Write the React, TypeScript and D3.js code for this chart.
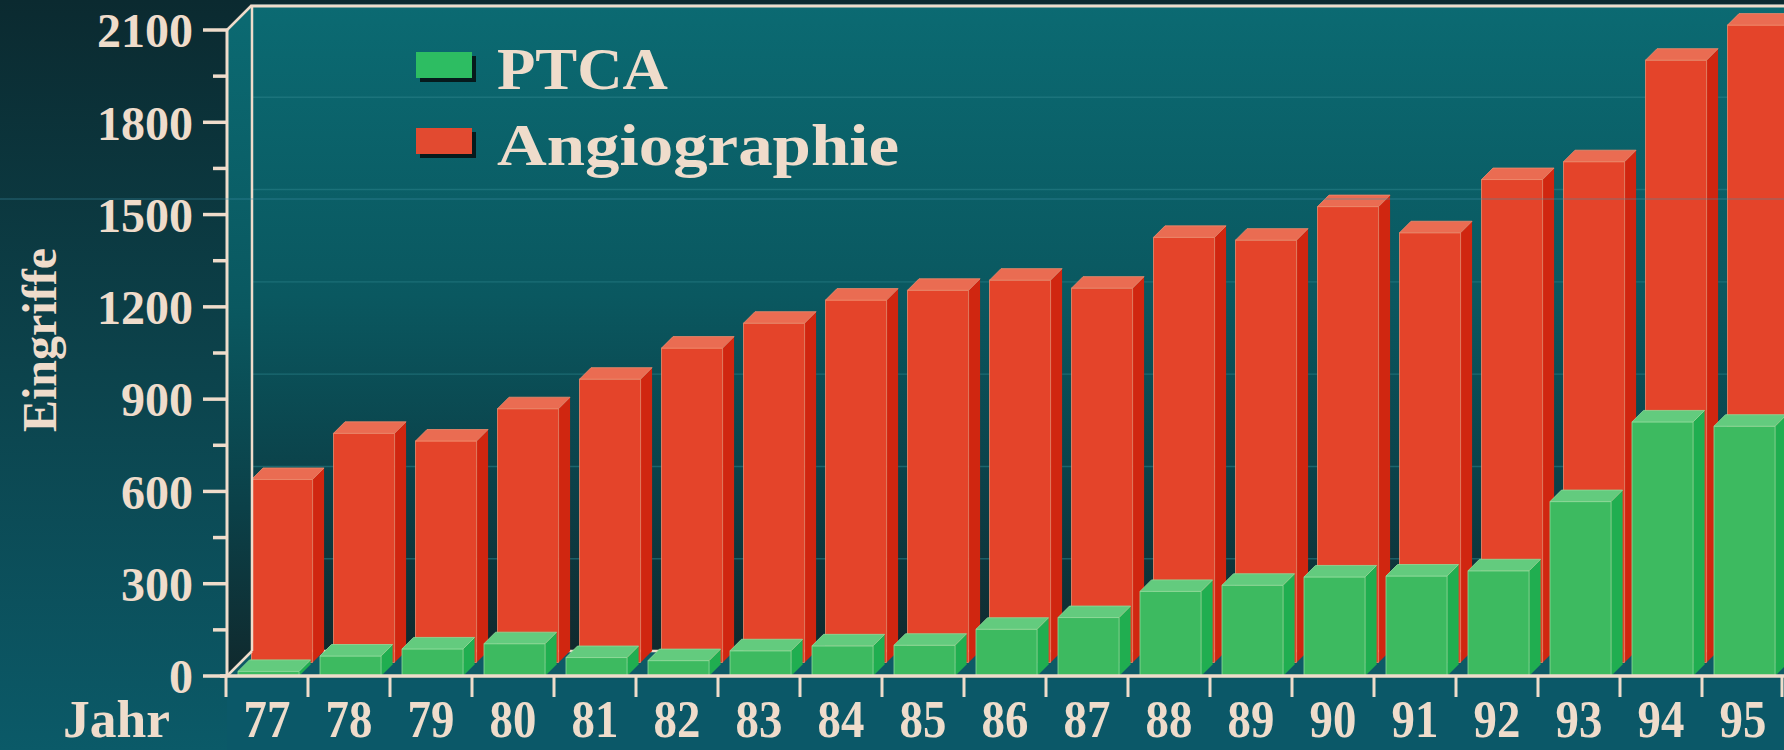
import React, { useEffect } from "react";
import * as d3 from "d3";

// Eingriffe pro Jahr
const years = ["77", "78", "79", "80", "81", "82", "83", "84", "85", "86", "87", "88", "89", "90", "91", "92", "93", "94", "95"];
const ptca = [15, 65, 88, 105, 60, 50, 82, 98, 100, 152, 190, 275, 295, 322, 325, 342, 567, 826, 812];
const angio = [595, 745, 720, 825, 921, 1022, 1103, 1178, 1210, 1243, 1217, 1382, 1373, 1482, 1397, 1570, 1628, 1958, 2072];
const yTicks = [0, 300, 600, 900, 1200, 1500, 1800, 2100];
const yMinor = [150, 450, 750, 1050, 1350, 1650, 1950];

const W = 1784,
  H = 750;
const CREAM = "#efdccb";
const DEPTH = 25; // 3D-Tiefe in px (nach rechts oben)

const x = d3.scaleBand<string>().domain(years).range([226, 1784]);
const y = d3.scaleLinear().domain([0, 2100]).range([676, 30]);

const poly = (pts: number[][]) => "M" + pts.map((p) => p.join(",")).join("L") + "Z";

// Quader zwischen Tiefe d0 und d1 (0 = vorne, 1 = Rückwand)
function box(x0: number, x1: number, v: number, d0: number, d1: number) {
  const a = DEPTH * d0,
    b = DEPTH * d1,
    yb = y(0),
    yt = y(v);
  return {
    front: poly([
      [x0 + a, yb - a],
      [x1 + a, yb - a],
      [x1 + a, yt - a],
      [x0 + a, yt - a],
    ]),
    top: poly([
      [x0 + a, yt - a],
      [x1 + a, yt - a],
      [x1 + b, yt - b],
      [x0 + b, yt - b],
    ]),
    side: poly([
      [x1 + a, yb - a],
      [x1 + a, yt - a],
      [x1 + b, yt - b],
      [x1 + b, yb - b],
    ]),
  };
}

const RED = { front: "#e4442a", top: "#ea6c52", side: "#d02610", edge: "#f08a6c" };
const GREEN = { front: "#3dba60", top: "#63cb7e", side: "#20ae50", edge: "#8fdc9c" };

export default function App() {
  useEffect(() => {
    document.body.style.margin = "0";
    document.body.style.overflow = "hidden";
  }, []);

  const font = "'Liberation Serif', 'Times New Roman', serif";
  const bw = x.bandwidth() * 0.745;
  const off = 12;
  const wallX = 227 + DEPTH,
    wallFloor = y(0) - DEPTH,
    wallTop = y(2100) - DEPTH;

  return (
    <svg width={W} height={H} style={{ position: "absolute", left: 0, top: 0 }}>
      <defs>
        <linearGradient id="bg" x1="0" y1="0" x2="0" y2="1">
          <stop offset="0" stopColor="#0b2a30" />
          <stop offset="0.5" stopColor="#0c434c" />
          <stop offset="1" stopColor="#0b5a68" />
        </linearGradient>
        <linearGradient id="wall" x1="0" y1="0" x2="0" y2="1">
          <stop offset="0" stopColor="#0b6a72" />
          <stop offset="0.45" stopColor="#0a5860" />
          <stop offset="0.75" stopColor="#0b4048" />
          <stop offset="1" stopColor="#10292d" />
        </linearGradient>
      </defs>

      <rect x={0} y={0} width={W} height={H} fill="url(#bg)" />
      <rect x={227} y={680} width={W - 227} height={H - 680} fill="#0b5868" />

      {/* Rückwand und linke Seitenwand */}
      <rect x={wallX} y={wallTop} width={W - wallX} height={wallFloor - wallTop} fill="url(#wall)" />
      <path
        d={poly([
          [227, y(2100)],
          [wallX, wallTop],
          [wallX, wallFloor],
          [227, y(0)],
        ])}
        fill="url(#wall)"
      />
      {yTicks.slice(1).map((t) => (
        <line key={t} x1={wallX} x2={W} y1={y(t) - DEPTH} y2={y(t) - DEPTH} stroke="#2a8189" strokeWidth={1.4} opacity={0.55} />
      ))}

      {/* Boden */}
      <path
        d={poly([
          [227, y(0)],
          [wallX, wallFloor],
          [W, wallFloor],
          [W, y(0)],
        ])}
        fill="#0e5a66"
      />
      <line x1={wallX} x2={W} y1={wallFloor} y2={wallFloor} stroke={CREAM} strokeWidth={2.5} />

      {/* Angiographie (hintere Reihe) */}
      {years.map((yr, i) => {
        const x0 = (x(yr) as number) + off;
        const bx = box(x0, x0 + bw, angio[i], 0.54, 1.0);
        return (
          <g key={"a" + yr}>
            <path d={bx.side} fill={RED.side} />
            <path d={bx.front} fill={RED.front} stroke={RED.edge} strokeWidth={0.8} />
            <path d={bx.top} fill={RED.top} stroke={RED.edge} strokeWidth={0.8} />
          </g>
        );
      })}

      {/* PTCA (vordere Reihe) */}
      {years.map((yr, i) => {
        const x0 = (x(yr) as number) + off;
        const bx = box(x0, x0 + bw, ptca[i], 0, 0.46);
        return (
          <g key={"p" + yr}>
            <path d={bx.side} fill={GREEN.side} />
            <path d={bx.front} fill={GREEN.front} stroke={GREEN.edge} strokeWidth={0.8} />
            <path d={bx.top} fill={GREEN.top} stroke={GREEN.edge} strokeWidth={0.8} />
          </g>
        );
      })}

      {/* Rahmen und Achsen */}
      <line x1={wallX} x2={W} y1={wallTop + 1} y2={wallTop + 1} stroke={CREAM} strokeWidth={3} />
      <line x1={wallX} x2={wallX} y1={wallTop} y2={wallFloor} stroke={CREAM} strokeWidth={2.5} />
      <line x1={227} x2={wallX} y1={y(2100)} y2={wallTop} stroke={CREAM} strokeWidth={2.5} />
      <line x1={227} x2={wallX} y1={y(0)} y2={wallFloor} stroke={CREAM} strokeWidth={2.5} />
      <line x1={227} x2={227} y1={y(2100)} y2={y(0)} stroke={CREAM} strokeWidth={3} />
      <line x1={220} x2={W} y1={y(0)} y2={y(0)} stroke={CREAM} strokeWidth={3.5} />

      {yTicks.map((t) => (
        <line key={"t" + t} x1={203} x2={227} y1={y(t)} y2={y(t)} stroke={CREAM} strokeWidth={3.5} />
      ))}
      {yMinor.map((t) => (
        <line key={"m" + t} x1={213} x2={227} y1={y(t)} y2={y(t)} stroke={CREAM} strokeWidth={3.5} />
      ))}
      {yTicks.map((t) => (
        <text key={"l" + t} x={193} y={y(t)} dy="0.36em" textAnchor="end" fontFamily={font} fontWeight="bold" fontSize={48} fill={CREAM}>
          {t}
        </text>
      ))}

      {years.map((yr) => (
        <line key={"xt" + yr} x1={x(yr) as number} x2={x(yr) as number} y1={y(0)} y2={697} stroke={CREAM} strokeWidth={3} />
      ))}
      <line x1={1782} x2={1782} y1={y(0)} y2={697} stroke={CREAM} strokeWidth={3} />
      {years.map((yr) => {
        const cx = (x(yr) as number) + x.bandwidth() / 2;
        return (
          <text key={"xl" + yr} transform={`translate(${cx},737) scale(0.9,1)`} textAnchor="middle" fontFamily={font} fontWeight="bold" fontSize={52} fill={CREAM}>
            {yr}
          </text>
        );
      })}
      <text x={63} y={737} fontFamily={font} fontWeight="bold" fontSize={52} fill={CREAM} textLength={107} lengthAdjust="spacingAndGlyphs">
        Jahr
      </text>

      <text transform="translate(56,340) rotate(-90)" textAnchor="middle" fontFamily={font} fontWeight="bold" fontSize={48} fill={CREAM}>
        Eingriffe
      </text>

      {/* Legende */}
      <rect x={420} y={56} width={56} height={26} fill="#061a1c" />
      <rect x={416} y={52} width={56} height={26} fill="#2dbd62" />
      <rect x={420} y={132} width={56} height={26} fill="#061a1c" />
      <rect x={416} y={128} width={56} height={26} fill="#e24a30" />
      <text x={497} y={89} fontFamily={font} fontWeight="bold" fontSize={60} fill={CREAM} textLength={171} lengthAdjust="spacingAndGlyphs">
        PTCA
      </text>
      <text x={497} y={165} fontFamily={font} fontWeight="bold" fontSize={60} fill={CREAM} textLength={402} lengthAdjust="spacingAndGlyphs">
        Angiographie
      </text>

      {/* feine Scanlinie wie in der Vorlage */}
      <line x1={0} x2={W} y1={199} y2={199} stroke="#3f8fa6" strokeWidth={1} opacity={0.55} />
    </svg>
  );
}
